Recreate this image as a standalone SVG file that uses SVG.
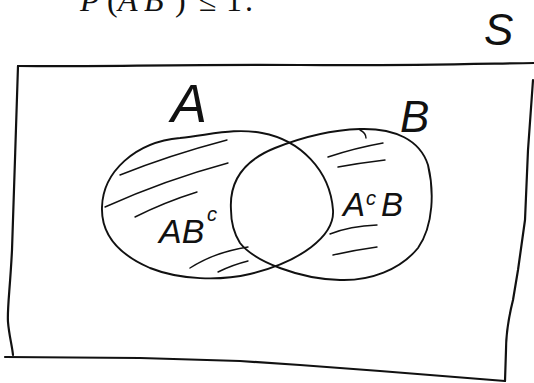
<svg xmlns="http://www.w3.org/2000/svg" width="534" height="383" viewBox="0 0 534 383">
<style>
.ink{fill:none;stroke:#111;stroke-linecap:round;stroke-linejoin:round}
.frame{stroke-width:2.2}
.set{stroke-width:1.9}
.hatch{stroke-width:1.4}
.hand{font-family:"Liberation Sans","DejaVu Sans",sans-serif;font-style:italic;fill:#111}
.math{font-family:"Liberation Serif","DejaVu Serif",serif;fill:#111}
</style>
<rect width="534" height="383" fill="#fff"/>
<g id="caption">
<text class="math" y="11" font-size="32"><tspan x="80" font-style="italic">P</tspan><tspan x="107">(</tspan><tspan x="118" font-style="italic">A</tspan><tspan x="144" font-style="italic">B</tspan><tspan x="175">)</tspan><tspan x="199">≤</tspan><tspan x="226">1</tspan><tspan x="245">.</tspan></text>
</g>
<g id="sample-space">
<path class="ink frame" d="M18,66 C80,67 200,64 300,65 C400,66 470,64 534,63"/>
<path class="ink frame" d="M533,80 L528,150 L525,220 L518,270 L513,300 C508,320 506,335 506,350 L505,381"/>
<path class="ink frame" d="M5,357 L140,358 L240,361 L300,365 L380,371 L505,381"/>
<path class="ink frame" d="M18,66 C16,120 14,200 12,250 C10,290 7,310 8,322 C9,335 12,345 13,355"/>
<text class="hand" x="484" y="45" font-size="44">S</text>
</g>
<g id="set-A">
<path class="ink set" d="M102,207 C103,172 135,142 180,138 C215,134 235,128 262,133 C300,140 330,170 333,210 C335,236 300,262 250,274 C220,281 180,280 150,268 C120,255 101,235 102,207 Z"/>
<text class="hand" x="171" y="122" font-size="54">A</text>
</g>
<g id="set-B">
<path class="ink set" d="M231,210 C229,180 245,160 275,148 C300,138 330,130 360,129 C395,128 420,140 428,165 C434,190 434,225 418,248 C400,270 370,281 340,280 C300,279 255,262 240,243 C235,235 231,222 231,210 Z"/>
<path class="ink hatch" d="M360,130 Q366,133 366,138"/>
<text class="hand" x="400" y="132" font-size="44">B</text>
</g>
<g id="region-ABc">
<path class="ink hatch" d="M120,175 Q170,155 227,140"/>
<path class="ink hatch" d="M105,207 Q165,180 228,163"/>
<path class="ink hatch" d="M135,217 Q165,202 197,192"/>
<path class="ink hatch" d="M190,268 Q215,252 248,247"/>
<path class="ink hatch" d="M218,272 Q232,265 248,261"/>
<text class="hand" y="243" font-size="34"><tspan x="159">AB</tspan><tspan x="207" y="221" font-size="20">c</tspan></text>
</g>
<g id="region-AcB">
<path class="ink hatch" d="M328,157 Q355,148 383,143"/>
<path class="ink hatch" d="M338,167 Q360,163 385,160"/>
<path class="ink hatch" d="M330,234 Q350,226 377,225"/>
<path class="ink hatch" d="M333,255 Q355,250 377,247"/>
<text class="hand" y="216" font-size="33"><tspan x="343">A</tspan><tspan x="366" y="205" font-size="20">c</tspan><tspan x="381" y="216">B</tspan></text>
</g>
</svg>
